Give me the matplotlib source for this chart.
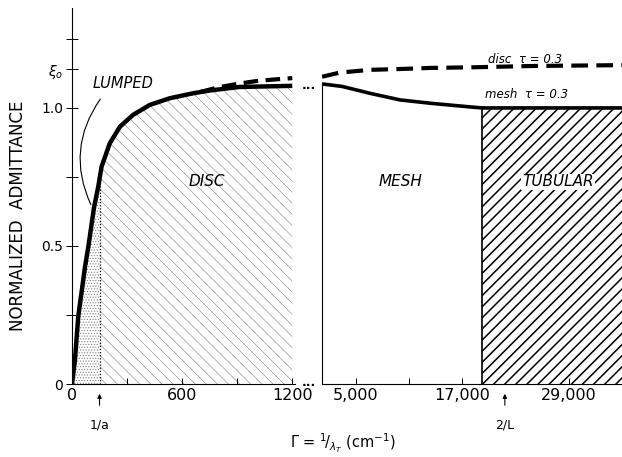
import matplotlib
matplotlib.use("Agg")
import matplotlib.pyplot as plt
import numpy as np

plt.rcParams['font.family'] = ['DejaVu Sans']
plt.rcParams['mathtext.fontset'] = 'dejavusans'

# ---- data ----
# left (disc / lumped) part, Gamma in cm^-1
gam_left = [0, 16, 34, 71, 89, 120, 143, 161, 206, 261, 333, 424, 532, 659, 749, 912, 1200]
adm_mesh_left = [0, 0.087, 0.244, 0.425, 0.497, 0.64, 0.715, 0.787, 0.872, 0.932,
                 0.975, 1.011, 1.035, 1.053, 1.063, 1.076, 1.080]
gam_disc_left = [700, 800, 900, 1000, 1100, 1200]
adm_disc_left = [1.058, 1.075, 1.087, 1.097, 1.103, 1.108]

# right (mesh / tubular) part
gam_right = [1200, 3450, 6600, 10000, 13400, 16750, 19200, 35000]
adm_mesh_right = [1.087, 1.078, 1.053, 1.029, 1.017, 1.007, 1.0, 1.0]
gam_disc_right = [1200, 3200, 6600, 10000, 13400, 17900, 25000, 35000]
adm_disc_right = [1.113, 1.128, 1.138, 1.141, 1.145, 1.147, 1.152, 1.155]

inv_a = 150       # 1/a
two_over_L = 21800  # 2/L
tubular_start = 19200
xi0 = 1.141

yticks = [0, 0.25, 0.5, 0.75, 1.0, xi0, 1.25]
ylabels = ['0', '', '0.5', '', '1.0', r'$\xi_o$', '']
xticks_left = [0, 300, 600, 900, 1200]
xlabels_left = ['0', '', '600', '', '1200']
xticks_right = [5000, 11000, 17000, 29000]
xlabels_right = ['5,000', '', '17,000', '29,000']

W, H = 622, 457
fig = plt.figure(figsize=(W / 100, H / 100), dpi=100)
ymax = 1.362
ax1 = fig.add_axes([72 / W, 1 - 384 / H, 223 / W, 376 / H])
ax2 = fig.add_axes([322 / W, 1 - 384 / H, 300 / W, 376 / H])

for ax in (ax1, ax2):
    ax.set_ylim(0, ymax)
    ax.spines['top'].set_visible(False)
    ax.spines['right'].set_visible(False)
    ax.spines['bottom'].set_linewidth(0.8)
    ax.tick_params(axis='x', direction='in', length=4, width=0.7, labelsize=11.5, pad=3)
ax2.spines['left'].set_visible(False)
ax2.set_yticks([])
ax1.spines['left'].set_linewidth(0.8)

ax1.set_xlim(0, 1215)
ax2.set_xlim(1200, 35000)

ax1.set_yticks(yticks)
ax1.set_yticklabels(ylabels)
ax1.tick_params(axis='y', direction='inout', length=9, width=0.7, labelsize=10, pad=2)
ax1.set_xticks(xticks_left)
ax1.set_xticklabels(xlabels_left)
ax2.set_xticks(xticks_right)
ax2.set_xticklabels(xlabels_right)

gl = np.array(gam_left)
ml = np.array(adm_mesh_left)

# lumped region (stipple) and disc region (light hatch)
plt.rcParams['hatch.linewidth'] = 0.5
xs = np.linspace(0, inv_a, 30)
ax1.fill_between(xs, 0, np.interp(xs, gl, ml), facecolor='white', edgecolor='0.5',
                 linewidth=0, hatch='......')
plt.rcParams['hatch.linewidth'] = 0.45
xs = np.linspace(inv_a, 1200, 200)
ax1.fill_between(xs, 0, np.interp(xs, gl, ml), facecolor='white', edgecolor='0.55',
                 linewidth=0, hatch='\\\\\\')
ax1.plot([inv_a, inv_a], [0, np.interp(inv_a, gl, ml)], color='k', lw=0.9, ls=(0, (1, 1.5)))

# tubular region (dense black hatch)
plt.rcParams['hatch.linewidth'] = 1.1
ax2.fill_between([tubular_start, 35000], 0, 1.0, facecolor='white', edgecolor='k',
                 linewidth=0, hatch='///')
ax2.plot([tubular_start, tubular_start], [0, 1.0], color='k', lw=1.2)
ax2.plot([1200, 1200], [0, adm_mesh_right[0]], color='k', lw=0.8, clip_on=False)

# curves
ax1.plot(gam_left, adm_mesh_left, color='k', lw=3.2, solid_capstyle='butt')
ax1.plot(gam_disc_left, adm_disc_left, color='k', lw=3.0, ls=(0, (3.5, 1.8)))
ax2.plot(gam_right, adm_mesh_right, color='k', lw=2.6, solid_capstyle='butt')
ax2.plot(gam_disc_right, adm_disc_right, color='k', lw=3.0, ls=(0, (4, 2)))

# region labels
ax1.text(114, 1.087, 'LUMPED', style='italic', fontsize=10.5, va='center', ha='left')
ax1.annotate('', xy=(109, 0.641), xytext=(163, 1.04),
             arrowprops=dict(arrowstyle='-', connectionstyle='arc3,rad=0.3', lw=0.8))
ax1.text(733, 0.735, 'DISC', style='italic', fontsize=11, ha='center', va='center')
ax2.text(10100, 0.732, 'MESH', style='italic', fontsize=11, ha='center', va='center')
ax2.text(27790, 0.732, 'TUBULAR', style='italic', fontsize=11, ha='center', va='center',
         bbox=dict(facecolor='white', edgecolor='none', pad=0.5))
ax2.text(24100, 1.174, 'disc  τ = 0.3', style='italic', fontsize=8.5, ha='center', va='center')
ax2.text(24300, 1.047, 'mesh  τ = 0.3', style='italic', fontsize=8.5, ha='center', va='center')

# markers 1/a and 2/L under the axis
for ax, xv, lab in ((ax1, inv_a, '1/a'), (ax2, two_over_L, '2/L')):
    tr = ax.get_xaxis_transform()
    ax.annotate('', xy=(xv, -7 / 376), xycoords=tr, xytext=(xv, -24 / 376), textcoords=tr,
                arrowprops=dict(arrowstyle='-|>', lw=0.8, mutation_scale=6, color='k'),
                annotation_clip=False)
    ax.text(xv, -41 / 376, lab, transform=tr, ha='center', va='center', fontsize=9)

# break marks between the two parts
fig.text(309 / W, 1 - 89 / H, '...', ha='center', va='baseline', fontsize=9, fontweight='bold')
fig.text(309 / W, 1 - 386 / H, '...', ha='center', va='baseline', fontsize=9, fontweight='bold')

fig.text(18 / W, 1 - 216 / H, 'NORMALIZED  ADMITTANCE', rotation=90, ha='center', va='center',
         fontsize=12)
fig.text(343 / W, 1 - 443 / H, r'$\Gamma$ = $^1\!/_{\lambda_T}$ (cm$^{-1}$)', ha='center',
         va='center', fontsize=10.5)

fig.savefig('out.png', dpi=100)
